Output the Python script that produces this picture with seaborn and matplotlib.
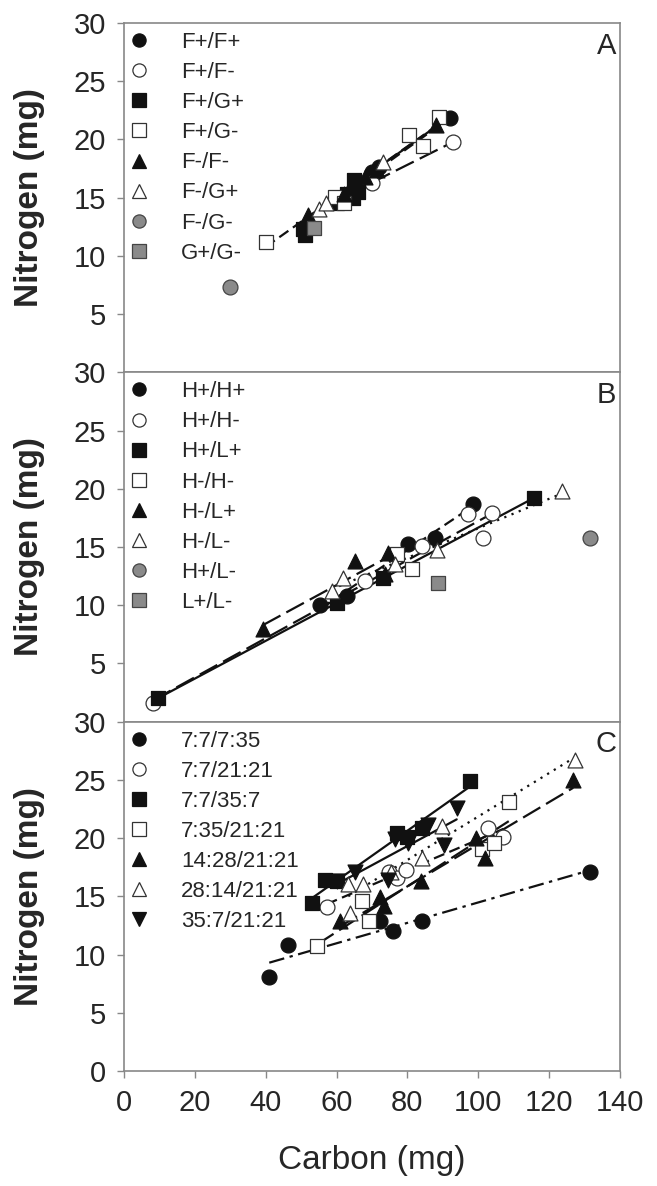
import matplotlib
matplotlib.use("Agg")
import matplotlib.pyplot as plt
import seaborn as sns
import numpy as np
import pandas as pd
from matplotlib.lines import Line2D

sns.set_theme(style="white")
plt.rcParams['font.family'] = ['Liberation Sans', 'DejaVu Sans']

# ---------------- Panel A ----------------
a_groups = ["F+/F+", "F+/F-", "F+/G+", "F+/G-", "F-/F-", "F-/G+", "F-/G-", "G+/G-"]
a_C = {
    "F+/F+": [60, 65, 70, 72, 92],
    "F+/F-": [70, 93],
    "F+/G+": [50.5, 51, 60, 63, 64.5, 65, 66],
    "F+/G-": [40, 59.5, 62, 80.5, 84.5, 89],
    "F-/F-": [52, 62, 68, 71.5, 88],
    "F-/G+": [55, 57, 73],
    "F-/G-": [30],
    "G+/G-": [53.5],
}
a_N = {
    "F+/F+": [14.8, 15.8, 17.2, 17.6, 21.8],
    "F+/F-": [16.3, 19.8],
    "F+/G+": [12.3, 11.8, 14.5, 15.3, 15.0, 16.5, 15.5],
    "F+/G-": [11.2, 15.1, 14.5, 20.4, 19.4, 21.9],
    "F-/F-": [13.5, 15.3, 16.8, 17.4, 21.2],
    "F-/G+": [14.0, 14.5, 18.1],
    "F-/G-": [7.3],
    "G+/G-": [12.4],
}
a_lines = {"F+/F+": "dash", "F+/F-": "longdash", "F+/G-": "dash", "F-/F-": "solid"}

# ---------------- Panel B ----------------
b_groups = ["H+/H+", "H+/H-", "H+/L+", "H-/H-", "H-/L+", "H-/L-", "H+/L-", "L+/L-"]
b_C = {
    "H+/H+": [55.3, 62.9, 80.2, 87.8, 98.5],
    "H+/H-": [8.2, 68, 84.1, 97.1, 101.3, 103.9],
    "H+/L+": [9.6, 60, 73, 115.7],
    "H-/H-": [77, 81.3],
    "H-/L+": [39.2, 65.2, 73.7, 74.5],
    "H-/L-": [58.7, 61.8, 76.5, 88.3, 123.6],
    "H+/L-": [131.5],
    "L+/L-": [88.6],
}
b_N = {
    "H+/H+": [10.0, 10.8, 15.3, 15.8, 18.7],
    "H+/H-": [1.6, 12.1, 15.1, 17.8, 15.8, 17.9],
    "H+/L+": [2.0, 10.2, 12.3, 19.2],
    "H-/H-": [14.4, 13.1],
    "H-/L+": [8.0, 13.8, 12.7, 14.5],
    "H-/L-": [11.2, 12.3, 13.5, 14.7, 19.8],
    "H+/L-": [15.8],
    "L+/L-": [11.9],
}
b_lines = {"H+/H+": "dash", "H+/H-": "longdash", "H+/L+": "solid", "H-/L+": "longdash", "H-/L-": "dot"}

# ---------------- Panel C ----------------
c_groups = ["7:7/7:35", "7:7/21:21", "7:7/35:7", "7:35/21:21", "14:28/21:21", "28:14/21:21", "35:7/21:21"]
c_C = {
    "7:7/7:35": [41, 46.4, 72.3, 76, 84, 131.4],
    "7:7/21:21": [57.2, 74.9, 77, 79.6, 102.8, 107.1],
    "7:7/35:7": [53, 56.8, 60.1, 77, 79.9, 84.1, 97.7],
    "7:35/21:21": [54.4, 67.2, 69.1, 101.1, 104.4, 108.6],
    "14:28/21:21": [60.9, 72.3, 73.5, 83.9, 99.4, 101.9, 126.8],
    "28:14/21:21": [63.3, 63.7, 67.5, 75.5, 84, 89.7, 127.2],
    "35:7/21:21": [60, 65.2, 74.6, 76.5, 80.3, 85.9, 90.4, 93.9],
}
c_N = {
    "7:7/7:35": [8.1, 10.8, 12.9, 12.0, 12.9, 17.1],
    "7:7/21:21": [14.1, 17.1, 16.6, 17.3, 20.9, 20.1],
    "7:7/35:7": [14.4, 16.4, 16.3, 20.4, 20.1, 20.9, 24.9],
    "7:35/21:21": [10.7, 14.6, 12.9, 19.1, 19.6, 23.1],
    "14:28/21:21": [12.9, 14.9, 14.2, 16.3, 20.0, 18.3, 25.0],
    "28:14/21:21": [16.1, 13.6, 16.1, 17.1, 18.3, 21.0, 26.7],
    "35:7/21:21": [16.3, 17.1, 16.4, 19.9, 19.6, 21.1, 19.4, 22.6],
}
c_lines = {"7:7/7:35": "dashdot", "7:7/21:21": "dash", "7:7/35:7": "solid", "7:35/21:21": "longdash",
           "14:28/21:21": "longdash", "28:14/21:21": "dot", "35:7/21:21": "solid"}

# marker styles (shape, face) in legend order
styles8 = [("o", "k"), ("o", "w"), ("s", "k"), ("s", "w"), ("^", "k"), ("^", "w"), ("o", "g"), ("s", "g")]
styles7 = [("o", "k"), ("o", "w"), ("s", "k"), ("s", "w"), ("^", "k"), ("^", "w"), ("v", "k")]
face = {"k": "#111111", "w": "white", "g": "#8a8a8a"}
edge = {"k": "#111111", "w": "#333333", "g": "#444444"}
dashes = {"solid": "-", "dash": (0, (5, 2.5)), "longdash": (0, (9, 3)), "dot": (0, (1, 2.5)),
          "dashdot": (0, (7, 2.5, 1.5, 2.5))}

W, H = 657, 1186
fig = plt.figure(figsize=(W / 100, H / 100), dpi=100)
left, right = 124 / W, 620 / W
top_px, bot_px = 23, 1071
ph = (bot_px - top_px) / 3
axes = []
for i in range(3):
    y0 = 1 - (top_px + (i + 1) * ph) / H
    axes.append(fig.add_axes([left, y0, right - left, ph / H]))

panels = [(a_groups, a_C, a_N, a_lines, styles8, "A"),
          (b_groups, b_C, b_N, b_lines, styles8, "B"),
          (c_groups, c_C, c_N, c_lines, styles7, "C")]

for i, (ax, (groups, Cd, Nd, lines, styles, letter)) in enumerate(zip(axes, panels)):
    handles = []
    for g, (mk, fc) in zip(groups, styles):
        df = pd.DataFrame({"C": Cd[g], "N": Nd[g]})
        if g in lines and len(df) > 1:
            sns.regplot(data=df, x="C", y="N", ax=ax, scatter=False, ci=None, truncate=True,
                        line_kws=dict(color="#111111", lw=1.6, linestyle=dashes[lines[g]], zorder=2))
    for g, (mk, fc) in zip(groups, styles):
        df = pd.DataFrame({"C": Cd[g], "N": Nd[g]})
        sns.scatterplot(data=df, x="C", y="N", ax=ax, marker=mk, s=115, color=face[fc],
                        edgecolor=edge[fc], linewidth=0.9, zorder=3)
        handles.append(Line2D([], [], linestyle="none", marker=mk, markersize=9.5,
                              markerfacecolor=face[fc], markeredgecolor=edge[fc],
                              markeredgewidth=0.9, label=g))
    ax.set_xlim(0, 140)
    ax.set_ylim(0, 30)
    ax.set_xlabel("")
    ax.set_ylabel("Nitrogen (mg)", fontsize=24, fontweight="bold")
    if i < 2:
        ax.set_yticks([5, 10, 15, 20, 25, 30])
        ax.set_xticks([])
    else:
        ax.set_yticks([0, 5, 10, 15, 20, 25, 30])
        ax.set_xticks(np.arange(0, 141, 20))
        ax.set_xlabel("Carbon (mg)", fontsize=24, labelpad=20)
    ax.tick_params(axis="both", labelsize=21, direction="out", length=5, width=1,
                   color="#888888", left=True, bottom=(i == 2), pad=8)
    for sp in ax.spines.values():
        sp.set_color("#888888")
        sp.set_linewidth(1.2)
    ax.text(0.992, 0.975, letter, transform=ax.transAxes, ha="right", va="top", fontsize=21)
    ax.legend(handles=handles, loc="upper left", frameon=False, fontsize=16,
              handletextpad=1.41, labelspacing=0.41, borderaxespad=0.0, borderpad=0.4,
              bbox_to_anchor=(-0.0107, 1.0), handlelength=1.0)

for ax in axes:
    ax.yaxis.set_label_coords(-0.16, 0.5)

fig.savefig("out.png", dpi=100, facecolor="white")
